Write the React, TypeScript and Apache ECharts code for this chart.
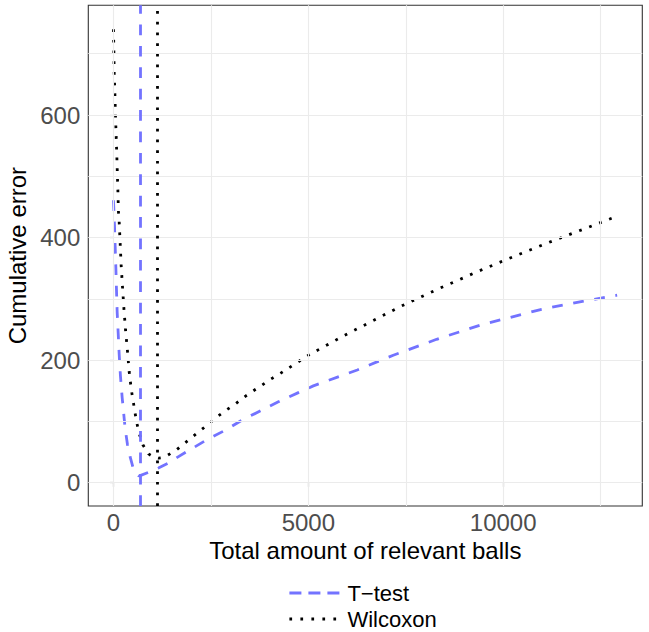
import React, { useEffect, useRef } from "react";
import * as echarts from "echarts";

// Cumulative error against the total amount of relevant balls
const tTestX = [0, 26, 44, 62, 77, 95, 121, 146, 179, 223, 300, 360, 428, 497, 560, 650, 700, 900, 1154, 1410, 1626, 1967, 2395, 2908, 3292, 3762, 4231, 4744, 5128, 6256, 7179, 8292, 9403, 10985, 11967, 12923];
const tTestY = [461, 420, 384, 349, 315, 278, 244, 210, 174, 139, 88, 62, 42, 26, 16, 11, 12, 17, 24, 32, 41, 54, 70, 87, 102, 117, 132, 147, 158, 184, 208, 234, 257, 283, 295, 306];

const wilcoxonX = [0, 10, 18, 36, 51, 69, 87, 100, 113, 128, 146, 172, 197, 231, 267, 308, 359, 403, 462, 513, 556, 600, 667, 754, 897, 1030, 1154, 1280, 1395, 1626, 1838, 2051, 2267, 2480, 2692, 2908, 3138, 3359, 3590, 3805, 4036, 4274, 4974, 5915, 7377, 8359, 9359, 10113, 11128, 12154, 12923];
const wilcoxonY = [740, 705, 670, 635, 600, 566, 531, 503, 477, 442, 426, 390, 355, 320, 285, 250, 215, 181, 150, 130, 113, 97, 79, 62, 47, 42, 40, 41, 45, 54, 65, 76, 87, 98, 109, 119, 129, 140, 150, 159, 169, 178, 207, 240, 288, 317, 345, 365, 391, 416, 435];

// Vertical reference lines (optimum of each test)
const tTestOptimum = 692;
const wilcoxonOptimum = 1128;

// Axis ranges, ticks and grid positions
const xRange = [-646, 13569];
const yRange = [-38, 779];
const xTicks = [0, 5000, 10000];
const yTicks = [0, 200, 400, 600];
const xGrid = [0, 2500, 5000, 7500, 10000, 12500];
const yGrid = [0, 100, 200, 300, 400, 500, 600, 700];

const seriesNames = ["T\u2212test", "Wilcoxon"];

const FONT = "'Liberation Sans', Arial, Helvetica, sans-serif";
const BLUE = "#7373FF";
const DASH = [10.7, 10.7];
const DOT = [2.7, 8.0];

export default function App() {
  const ref = useRef<HTMLDivElement>(null);

  useEffect(() => {
    if (!ref.current) return;
    const chart = echarts.init(ref.current, undefined, { renderer: "svg" });

    const pairs = (xs: number[], ys: number[]) => xs.map((x, i) => [x, ys[i]]);
    const plain = (v: number) => String(v);

    chart.setOption({
      animation: false,
      backgroundColor: "#ffffff",
      textStyle: { fontFamily: FONT },
      grid: {
        left: 88.3,
        right: 6.7,
        top: 5.3,
        bottom: 126,
        containLabel: false,
        outerBoundsMode: "none",
        show: true,
        borderColor: "#333333",
        borderWidth: 1.1,
        backgroundColor: "#ffffff",
      },
      xAxis: {
        type: "value",
        min: xRange[0],
        max: xRange[1],
        name: "Total amount of relevant balls",
        nameLocation: "middle",
        nameGap: 27,
        nameTextStyle: { fontSize: 24, color: "#000000", fontFamily: FONT, lineHeight: 24 },
        axisLine: { show: false },
        splitLine: { show: false },
        axisTick: { show: true, customValues: xTicks, length: 4, lineStyle: { color: "#333333", width: 1.1 } },
        axisLabel: {
          customValues: xTicks,
          formatter: plain,
          margin: 4,
          fontSize: 24,
          lineHeight: 24,
          color: "#4D4D4D",
          fontFamily: FONT,
        },
      },
      yAxis: {
        type: "value",
        min: yRange[0],
        max: yRange[1],
        name: "Cumulative error",
        nameLocation: "middle",
        nameRotate: 90,
        nameGap: 47,
        nameTextStyle: { fontSize: 24, color: "#000000", fontFamily: FONT, lineHeight: 24 },
        axisLine: { show: false },
        splitLine: { show: false },
        axisTick: { show: true, customValues: yTicks, length: 4, lineStyle: { color: "#333333", width: 1.1 } },
        axisLabel: {
          customValues: yTicks,
          formatter: plain,
          margin: 8,
          fontSize: 24,
          lineHeight: 24,
          color: "#4D4D4D",
          fontFamily: FONT,
        },
      },
      legend: {
        orient: "vertical",
        left: 288,
        top: 581,
        itemWidth: 50,
        itemHeight: 24,
        itemGap: 2,
        padding: 0,
        icon: "inherit",
        itemStyle: { opacity: 0 },
        textStyle: { fontSize: 22, lineHeight: 24, color: "#000000", fontFamily: FONT, padding: [0, 0, 0, 3] },
        data: [
          { name: seriesNames[0], lineStyle: { color: BLUE, width: 2.8, type: [12, 7] } },
          { name: seriesNames[1], lineStyle: { color: "#000000", width: 2.8, type: [2.7, 8.3] } },
        ],
      },
      series: [
        {
          name: "grid",
          type: "line",
          data: [],
          silent: true,
          z: 0,
          markLine: {
            silent: true,
            symbol: "none",
            label: { show: false },
            animation: false,
            lineStyle: { color: "#EBEBEB", width: 1.1, type: "solid" },
            data: [
              ...xGrid.map((v) => ({ xAxis: v })),
              ...yGrid.map((v) => ({ yAxis: v })),
            ],
          },
        },
        {
          name: seriesNames[0],
          type: "line",
          data: pairs(tTestX, tTestY),
          symbol: "none",
          showSymbol: false,
          z: 3,
          lineStyle: { color: BLUE, width: 2.8, type: DASH, cap: "butt" },
          itemStyle: { color: BLUE },
          markLine: {
            silent: true,
            symbol: "none",
            label: { show: false },
            animation: false,
            lineStyle: { color: BLUE, width: 2.8, type: DASH },
            data: [{ xAxis: tTestOptimum }],
          },
        },
        {
          name: seriesNames[1],
          type: "line",
          data: pairs(wilcoxonX, wilcoxonY),
          symbol: "none",
          showSymbol: false,
          z: 3,
          lineStyle: { color: "#000000", width: 2.8, type: DOT, cap: "butt" },
          itemStyle: { color: "#000000" },
          markLine: {
            silent: true,
            symbol: "none",
            label: { show: false },
            animation: false,
            lineStyle: { color: "#000000", width: 2.8, type: DOT },
            data: [{ xAxis: wilcoxonOptimum }],
          },
        },
      ],
    });

    return () => chart.dispose();
  }, []);

  return (
    <div
      ref={ref}
      style={{ position: "fixed", left: 0, top: 0, width: 649, height: 632, background: "#ffffff" }}
    />
  );
}
